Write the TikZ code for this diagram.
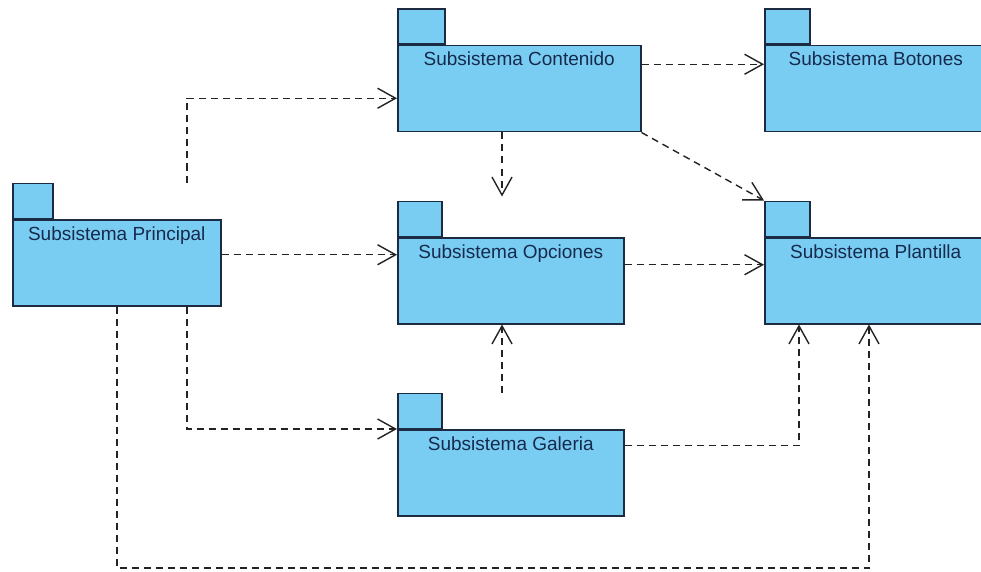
\documentclass[tikz,border=0pt]{standalone}
\usepackage{fontspec}
\setmainfont{Liberation Sans}
\usetikzlibrary{arrows.meta,calc}
\definecolor{pkgfill}{RGB}{122,205,242}
\definecolor{pkgline}{RGB}{28,42,66}
\definecolor{pkgtext}{RGB}{22,42,78}
\definecolor{depline}{RGB}{35,35,35}
\begin{document}
\begin{tikzpicture}[x=1pt,y=-1pt,
  pkgbody/.style={draw=pkgline, fill=pkgfill, line width=1.5pt, inner sep=0pt,
    anchor=north west, minimum height=86pt},
  pkgtab/.style={draw=pkgline, fill=pkgfill, line width=1.5pt, inner sep=0pt,
    anchor=south west, minimum height=35pt},
  pkglabel/.style={font=\fontsize{19}{22}\selectfont, text=pkgtext, anchor=base, inner sep=0pt},
  dep/.style={draw=depline, line width=1.4pt, dash pattern=on 7pt off 5pt,
    -{Straight Barb[length=18pt,width=20pt,line width=1.4pt]}},
]
\useasboundingbox (0,0) rectangle (981,572);

% package bodies with their tabs
\node[pkgbody, minimum width=208pt] (pri) at (12,219) {};
\node[pkgtab, minimum width=40pt] (pri-tab) at (pri.north west) {};
\node[pkgbody, minimum width=243pt] (con) at (397,45) {};
\node[pkgtab, minimum width=47pt] (con-tab) at (con.north west) {};
\node[pkgbody, minimum width=222pt] (bot) at (764,45) {};
\node[pkgtab, minimum width=45pt] (bot-tab) at (bot.north west) {};
\node[pkgbody, minimum width=226pt] (opc) at (397,237) {};
\node[pkgtab, minimum width=44pt] (opc-tab) at (opc.north west) {};
\node[pkgbody, minimum width=222pt] (pla) at (764,237) {};
\node[pkgtab, minimum width=45pt] (pla-tab) at (pla.north west) {};
\node[pkgbody, minimum width=226pt] (gal) at (397,429) {};
\node[pkgtab, minimum width=44pt] (gal-tab) at (gal.north west) {};

% package names
\node[pkglabel] (pri-l) at ([yshift=-21pt]pri.north) {Subsistema Principal};
\node[pkglabel] (con-l) at ([yshift=-21pt]con.north) {Subsistema Contenido};
\node[pkglabel] (bot-l) at ([yshift=-21pt]bot.north) {Subsistema Botones};
\node[pkglabel] (opc-l) at ([yshift=-21pt]opc.north) {Subsistema Opciones};
\node[pkglabel] (pla-l) at ([yshift=-21pt]pla.north) {Subsistema Plantilla};
\node[pkglabel] (gal-l) at ([yshift=-21pt]gal.north) {Subsistema Galeria};

% dependencies
\draw[dep] ([xshift=175pt]pri-tab.north west) |- ([yshift=-9.5pt]con.west);

\coordinate (a2) at ([yshift=8pt]pri.east);
\draw[dep] (a2) -- (a2 -| opc.west);

\draw[dep] ([xshift=175pt]pri.south west) |- (gal.north west);

\coordinate (a4) at ([xshift=105pt]pri.south west);
\coordinate (a4end) at ([xshift=105pt]pla.south west);
\coordinate (low) at (0,568);
\draw[dep] (a4) -- (a4 |- low) -| (a4end);

\coordinate (a5) at ([yshift=24.5pt]con.east);
\draw[dep] (a5) -- (a5 -| bot.west);

\coordinate (a6) at ([xshift=105pt]con.south west);
\draw[dep, shorten >=4pt] (a6) -- (a6 |- opc-tab.north);

\draw[dep] (con.south east) -- (pla-tab.north west);

\coordinate (a8) at ([yshift=16pt]opc.east);
\draw[dep] (a8) -- (a8 -| pla.west);

\coordinate (a9) at ([xshift=105pt]gal-tab.north west);
\draw[dep] (a9) -- (a9 |- opc.south);

\coordinate (a10) at ([yshift=27pt]gal.east);
\coordinate (a10end) at ([xshift=35pt]pla.south west);
\draw[dep] (a10) -| (a10end);
\end{tikzpicture}
\end{document}
